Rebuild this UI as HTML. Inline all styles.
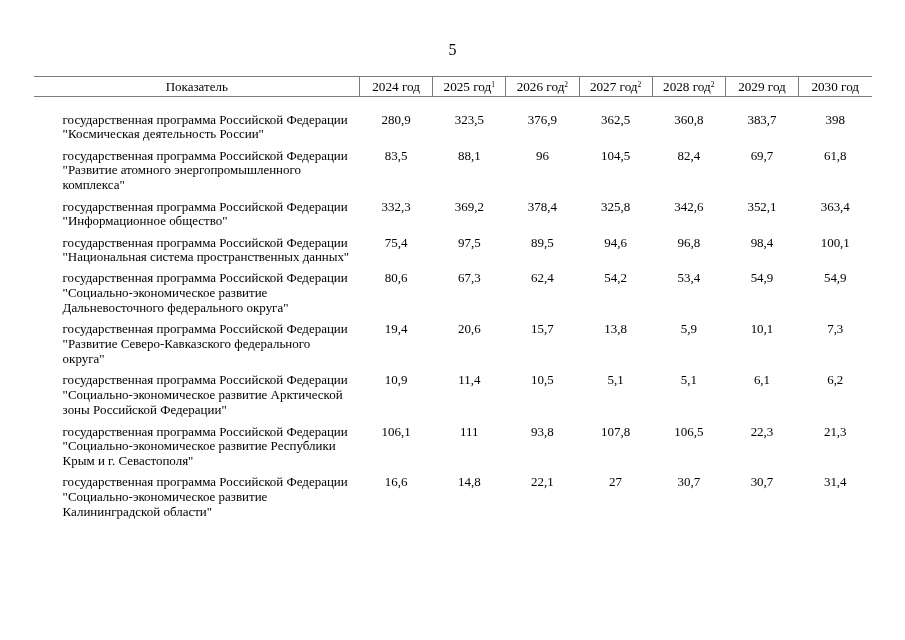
<!DOCTYPE html>
<html lang="ru"><head><meta charset="utf-8"><title>5</title>
<style>
html,body{margin:0;padding:0;background:#fff;}
body{width:905px;height:640px;position:relative;overflow:hidden;font-family:"Liberation Serif",serif;color:#000;font-size:12.98px;}
.pn{position:absolute;left:0;width:905px;top:40.6px;text-align:center;font-size:16px;line-height:18px;}
.hl{position:absolute;left:34px;width:838px;height:1px;background:#7d7d7d;}
.vl{position:absolute;top:77px;height:19px;width:1px;background:#7d7d7d;}
.h{position:absolute;top:80px;height:14px;line-height:14px;font-size:13.2px;text-align:center;white-space:nowrap;}
.h sup{font-size:7.5px;vertical-align:0;position:relative;top:-4px;line-height:0;}
.r{position:absolute;left:62.6px;width:300px;line-height:15px;white-space:nowrap;}
.c{position:absolute;text-align:center;line-height:15px;}
</style></head><body>
<div class="pn">5</div>
<div class="hl" style="top:76px"></div>
<div class="hl" style="top:96px"></div>
<div class="vl" style="left:359.0px"></div>
<div class="vl" style="left:432.2px"></div>
<div class="vl" style="left:505.3px"></div>
<div class="vl" style="left:578.5px"></div>
<div class="vl" style="left:651.7px"></div>
<div class="vl" style="left:724.9px"></div>
<div class="vl" style="left:798.0px"></div>
<div class="h" style="left:34px;width:325.5px;font-size:13px">Показатель</div>
<div class="h" style="left:359.5px;width:73.2px">2024 год</div>
<div class="h" style="left:432.7px;width:73.2px">2025 год<sup>1</sup></div>
<div class="h" style="left:505.8px;width:73.2px">2026 год<sup>2</sup></div>
<div class="h" style="left:579.0px;width:73.2px">2027 год<sup>2</sup></div>
<div class="h" style="left:652.2px;width:73.2px">2028 год<sup>2</sup></div>
<div class="h" style="left:725.4px;width:73.2px">2029 год</div>
<div class="h" style="left:798.5px;width:73.5px">2030 год</div>
<div class="r" style="top:112px">государственная программа Российской Федерации</div>
<div class="c" style="top:112px;left:359.5px;width:73.2px">280,9</div>
<div class="c" style="top:112px;left:432.7px;width:73.2px">323,5</div>
<div class="c" style="top:112px;left:505.8px;width:73.2px">376,9</div>
<div class="c" style="top:112px;left:579.0px;width:73.2px">362,5</div>
<div class="c" style="top:112px;left:652.2px;width:73.2px">360,8</div>
<div class="c" style="top:112px;left:725.4px;width:73.2px">383,7</div>
<div class="c" style="top:112px;left:798.5px;width:73.5px">398</div>
<div class="r" style="top:126px">"Космическая деятельность России"</div>
<div class="r" style="top:148px">государственная программа Российской Федерации</div>
<div class="c" style="top:148px;left:359.5px;width:73.2px">83,5</div>
<div class="c" style="top:148px;left:432.7px;width:73.2px">88,1</div>
<div class="c" style="top:148px;left:505.8px;width:73.2px">96</div>
<div class="c" style="top:148px;left:579.0px;width:73.2px">104,5</div>
<div class="c" style="top:148px;left:652.2px;width:73.2px">82,4</div>
<div class="c" style="top:148px;left:725.4px;width:73.2px">69,7</div>
<div class="c" style="top:148px;left:798.5px;width:73.5px">61,8</div>
<div class="r" style="top:162px">"Развитие атомного энергопромышленного</div>
<div class="r" style="top:177px">комплекса"</div>
<div class="r" style="top:199px">государственная программа Российской Федерации</div>
<div class="c" style="top:199px;left:359.5px;width:73.2px">332,3</div>
<div class="c" style="top:199px;left:432.7px;width:73.2px">369,2</div>
<div class="c" style="top:199px;left:505.8px;width:73.2px">378,4</div>
<div class="c" style="top:199px;left:579.0px;width:73.2px">325,8</div>
<div class="c" style="top:199px;left:652.2px;width:73.2px">342,6</div>
<div class="c" style="top:199px;left:725.4px;width:73.2px">352,1</div>
<div class="c" style="top:199px;left:798.5px;width:73.5px">363,4</div>
<div class="r" style="top:213px">"Информационное общество"</div>
<div class="r" style="top:235px">государственная программа Российской Федерации</div>
<div class="c" style="top:235px;left:359.5px;width:73.2px">75,4</div>
<div class="c" style="top:235px;left:432.7px;width:73.2px">97,5</div>
<div class="c" style="top:235px;left:505.8px;width:73.2px">89,5</div>
<div class="c" style="top:235px;left:579.0px;width:73.2px">94,6</div>
<div class="c" style="top:235px;left:652.2px;width:73.2px">96,8</div>
<div class="c" style="top:235px;left:725.4px;width:73.2px">98,4</div>
<div class="c" style="top:235px;left:798.5px;width:73.5px">100,1</div>
<div class="r" style="top:249px;letter-spacing:-0.035px">"Национальная система пространственных данных"</div>
<div class="r" style="top:270px">государственная программа Российской Федерации</div>
<div class="c" style="top:270px;left:359.5px;width:73.2px">80,6</div>
<div class="c" style="top:270px;left:432.7px;width:73.2px">67,3</div>
<div class="c" style="top:270px;left:505.8px;width:73.2px">62,4</div>
<div class="c" style="top:270px;left:579.0px;width:73.2px">54,2</div>
<div class="c" style="top:270px;left:652.2px;width:73.2px">53,4</div>
<div class="c" style="top:270px;left:725.4px;width:73.2px">54,9</div>
<div class="c" style="top:270px;left:798.5px;width:73.5px">54,9</div>
<div class="r" style="top:285px">"Социально-экономическое развитие</div>
<div class="r" style="top:300px">Дальневосточного федерального округа"</div>
<div class="r" style="top:321px">государственная программа Российской Федерации</div>
<div class="c" style="top:321px;left:359.5px;width:73.2px">19,4</div>
<div class="c" style="top:321px;left:432.7px;width:73.2px">20,6</div>
<div class="c" style="top:321px;left:505.8px;width:73.2px">15,7</div>
<div class="c" style="top:321px;left:579.0px;width:73.2px">13,8</div>
<div class="c" style="top:321px;left:652.2px;width:73.2px">5,9</div>
<div class="c" style="top:321px;left:725.4px;width:73.2px">10,1</div>
<div class="c" style="top:321px;left:798.5px;width:73.5px">7,3</div>
<div class="r" style="top:336px">"Развитие Северо-Кавказского федерального</div>
<div class="r" style="top:351px">округа"</div>
<div class="r" style="top:372px">государственная программа Российской Федерации</div>
<div class="c" style="top:372px;left:359.5px;width:73.2px">10,9</div>
<div class="c" style="top:372px;left:432.7px;width:73.2px">11,4</div>
<div class="c" style="top:372px;left:505.8px;width:73.2px">10,5</div>
<div class="c" style="top:372px;left:579.0px;width:73.2px">5,1</div>
<div class="c" style="top:372px;left:652.2px;width:73.2px">5,1</div>
<div class="c" style="top:372px;left:725.4px;width:73.2px">6,1</div>
<div class="c" style="top:372px;left:798.5px;width:73.5px">6,2</div>
<div class="r" style="top:387px">"Социально-экономическое развитие Арктической</div>
<div class="r" style="top:402px">зоны Российской Федерации"</div>
<div class="r" style="top:424px">государственная программа Российской Федерации</div>
<div class="c" style="top:424px;left:359.5px;width:73.2px">106,1</div>
<div class="c" style="top:424px;left:432.7px;width:73.2px">111</div>
<div class="c" style="top:424px;left:505.8px;width:73.2px">93,8</div>
<div class="c" style="top:424px;left:579.0px;width:73.2px">107,8</div>
<div class="c" style="top:424px;left:652.2px;width:73.2px">106,5</div>
<div class="c" style="top:424px;left:725.4px;width:73.2px">22,3</div>
<div class="c" style="top:424px;left:798.5px;width:73.5px">21,3</div>
<div class="r" style="top:438px">"Социально-экономическое развитие Республики</div>
<div class="r" style="top:453px">Крым и г. Севастополя"</div>
<div class="r" style="top:474px">государственная программа Российской Федерации</div>
<div class="c" style="top:474px;left:359.5px;width:73.2px">16,6</div>
<div class="c" style="top:474px;left:432.7px;width:73.2px">14,8</div>
<div class="c" style="top:474px;left:505.8px;width:73.2px">22,1</div>
<div class="c" style="top:474px;left:579.0px;width:73.2px">27</div>
<div class="c" style="top:474px;left:652.2px;width:73.2px">30,7</div>
<div class="c" style="top:474px;left:725.4px;width:73.2px">30,7</div>
<div class="c" style="top:474px;left:798.5px;width:73.5px">31,4</div>
<div class="r" style="top:489px">"Социально-экономическое развитие</div>
<div class="r" style="top:504px">Калининградской области"</div>
</body></html>
